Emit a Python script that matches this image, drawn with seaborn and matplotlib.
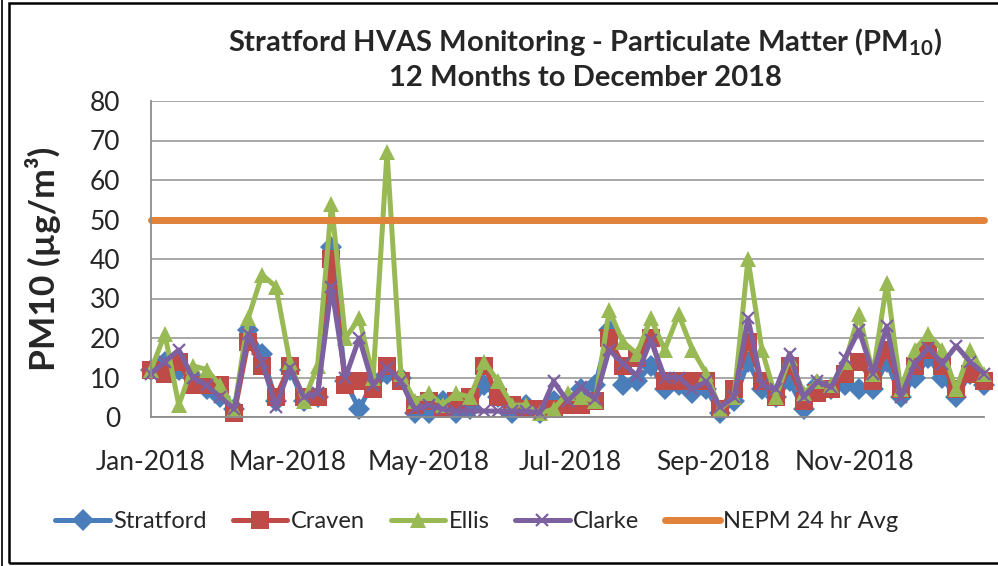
import numpy as np
import pandas as pd
import matplotlib
matplotlib.use("Agg")
import matplotlib.pyplot as plt
import matplotlib.dates as mdates
import seaborn as sns
from matplotlib.patches import Rectangle

# ---------------- data ----------------
dates = pd.date_range("2018-01-01", periods=61, freq="6D")

stratford = [12, 14, 12, 10, 7, 5, 2, 22, 16, 4, 12, 4, 5, 43, 9, 2, 9, 11, 10, 1,
             1, 4, 1, 2, 8, 5, 1, 3, 1, 4, 4, 7, 8, 22, 8, 9, 13, 7, 8, 6,
             7, 1, 4, 14, 7, 5, 9, 2, 8, 7, 8, 7, 7, 14, 5, 10, 15, 10, 5, 11, 8]
craven = [12, 11, 14, 8, 8, 8, 1, 19, 13, 5, 13, 5, 5, 40, 8, 9, 7, 13, 9, 3,
          4, 2, 4, 5, 13, 5, 3, 2, 2, 2, 3, 3, 4, 20, 13, 15, 20, 9, 9, 9,
          9, 2, 7, 19, 9, 5, 13, 4, 6, 7, 11, 14, 9, 17, 7, 13, 17, 13, 7, 11, 9]
ellis = [12, 21, 3, 13, 12, 8, 2, 25, 36, 33, 14, 4, 13, 54, 20, 25, 10, 67, 11, 4,
         6, 3, 6, 5, 14, 9, 3, 3, 1, 2, 6, 5, 4, 27, 19, 16, 25, 17, 26, 17,
         11, 2, 5, 40, 17, 5, 15, 6, 9, 8, 14, 26, 11, 34, 7, 17, 21, 17, 7, 17, 11]
clarke = [11, 14, 17, 10, 8, 5, 2, 21, 14, 2.5, 12.5, 5, 6, 33, 10, 20, 8, 12.5, 9, 2,
          3, 2, 1.5, 1.5, 1.5, 1.5, 1.5, 1.5, 1, 9, 4, 7.5, 4.5, 17, 13.5, 10.5, 19.5, 10, 10, 7,
          9, 2.5, 5, 25, 8, 7, 16, 5, 9, 7.5, 15, 22, 11, 23, 5, 13.5, 17.5, 13.5, 18, 14, 11]
nepm_limit = 50

series_names = ["Stratford", "Craven", "Ellis", "Clarke", "NEPM 24 hr Avg"]
y_ticks = [0, 10, 20, 30, 40, 50, 60, 70, 80]
x_tick_dates = pd.to_datetime(["2018-01-01", "2018-03-01", "2018-05-01",
                               "2018-07-01", "2018-09-01", "2018-11-01"])

df = pd.DataFrame({"date": dates, "Stratford": stratford, "Craven": craven,
                   "Ellis": ellis, "Clarke": clarke,
                   "NEPM 24 hr Avg": [nepm_limit] * len(dates)})

# ---------------- style ----------------
sns.set_style("white")
plt.rcParams["font.family"] = ["Lato", "DejaVu Sans"]
plt.rcParams["mathtext.fontset"] = "custom"
plt.rcParams["mathtext.rm"] = "Lato:bold"
plt.rcParams["mathtext.default"] = "rm"

fig = plt.figure(figsize=(9.98, 5.66), dpi=100)
W, H = 998, 566
ax = fig.add_axes([151 / W, 1 - 417 / H, (984 - 151) / W, (417 - 101) / H])

styles = {
    "Stratford": dict(color="#4A7EBB", marker="D", markersize=11, markeredgewidth=0),
    "Craven": dict(color="#BE4B48", marker="s", markersize=13.5, markeredgewidth=0),
    "Ellis": dict(color="#98B954", marker="^", markersize=11, markeredgewidth=0),
    "Clarke": dict(color="#7D60A0", marker="x", markersize=8, markeredgewidth=1.6),
    "NEPM 24 hr Avg": dict(color="#E0823A", marker=None),
}

for name in series_names:
    st = styles[name]
    lw = 5.0 if name.startswith("NEPM") else 3.6
    kw = dict(color=st["color"], linewidth=lw, label=name, clip_on=False)
    if st["marker"]:
        kw.update(marker=st["marker"], markersize=st["markersize"],
                  markeredgewidth=st["markeredgewidth"],
                  markeredgecolor=st["color"], markerfacecolor=st["color"])
    else:
        kw.update(solid_capstyle="round")
    sns.lineplot(data=df, x="date", y=name, ax=ax, **kw)

ax.set_ylim(0, 80)
ax.set_xlim(dates[0], dates[-1])
ax.set_yticks(y_ticks)
ax.set_xticks(x_tick_dates)
ax.xaxis.set_major_formatter(mdates.DateFormatter("%b-%Y"))
ax.tick_params(axis="both", labelsize=19, length=0)
ax.tick_params(axis="y", pad=22)
ax.tick_params(axis="x", pad=24)
ax.yaxis.grid(True, color="#A0A0A0", linewidth=1.3)
ax.set_axisbelow(True)
for s in ["top", "right"]:
    ax.spines[s].set_visible(False)
for s in ["left", "bottom"]:
    ax.spines[s].set_color("#8C8C8C")
    ax.spines[s].set_linewidth(1.3)
ax.set_xlabel("")
ax.set_ylabel("PM10 (µg/m³)", fontsize=25.5, fontweight="bold")
ax.yaxis.set_label_coords(-0.108, 0.5)

fig.text(585 / W, 1 - 42 / H, "Stratford HVAS Monitoring - Particulate Matter (PM$_{10}$)",
         ha="center", va="center", fontsize=21, fontweight="bold")
fig.text(585 / W, 1 - 78 / H, "12 Months to December 2018",
         ha="center", va="center", fontsize=21, fontweight="bold")

handles, labels = ax.get_legend_handles_labels()
ax.legend(handles, labels, loc="center", bbox_to_anchor=(477 / W, 1 - 522 / H),
          bbox_transform=fig.transFigure, ncol=5, frameon=False, fontsize=17,
          handlelength=2.3, columnspacing=1.1, handletextpad=0.15)

fig.add_artist(Rectangle((9 / W, 3 / H), (W + 5 - 9) / W, (563 - 3) / H,
                         transform=fig.transFigure, fill=False, ec="black", lw=1.8))
fig.add_artist(plt.Line2D([2 / W, 2 / W], [0, 1], transform=fig.transFigure,
                          color="black", lw=1.2))

fig.savefig("out.png", dpi=100)
